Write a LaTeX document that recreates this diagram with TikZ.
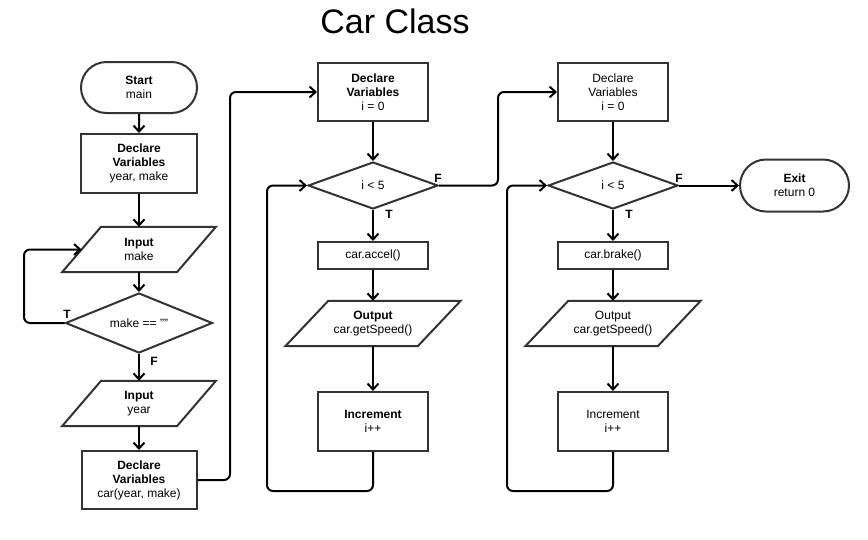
\documentclass[tikz,border=0pt]{standalone}
\usepackage{fontspec}
\setmainfont{Liberation Sans}
\usetikzlibrary{shapes.geometric,shapes.misc,arrows.meta}
\begin{document}
\begin{tikzpicture}[x=1pt,y=-1pt,
  txt/.style={font=\fontsize{12}{14}\selectfont, align=center, inner sep=0pt},
  shp/.style={txt, draw=black!80, line width=2pt, fill=white},
  box/.style={shp, rectangle},
  term/.style={shp, rounded rectangle},
  dec/.style={shp, diamond},
  io/.style={txt, draw=none},
  paraline/.style={draw=black!80, line width=2pt, line join=miter},
  arr/.style={line width=2pt, rounded corners=6pt, -{Straight Barb[length=6pt,width=11pt]}},
  lbl/.style={font=\bfseries\fontsize{12}{14}\selectfont, inner sep=0pt}
]
\useasboundingbox (0,0) rectangle (868,539);

% title
\node[font=\fontsize{34}{38}\selectfont, anchor=base, inner sep=0pt] (title) at (395,33.5) {Car Class};

% column 1
\node[term, minimum width=116pt, minimum height=51pt] (start) at (139,87.5) {\textbf{Start}\\main};
\node[box, minimum width=116pt, minimum height=59pt] (d1) at (139,163.5) {\textbf{Declare}\\\textbf{Variables}\\year, make};
\node[io, minimum width=114.5pt, minimum height=45pt] (in1) at (139,249.5) {\textbf{Input}\\make};
\node[dec, aspect=2.45, minimum width=147pt, minimum height=60pt] (dia1) at (139,323) {make == \symbol{34}\symbol{34}};
\node[io, minimum width=114.5pt, minimum height=45pt] (in2) at (139,403.5) {\textbf{Input}\\year};
\node[box, minimum width=115pt, minimum height=58pt] (d2) at (139,480) {\textbf{Declare}\\\textbf{Variables}\\car(year, make)};

% column 2
\node[box, minimum width=110pt, minimum height=58pt] (d3) at (373,92) {\textbf{Declare}\\\textbf{Variables}\\i = 0};
\node[dec, aspect=2.77, minimum width=130pt, minimum height=47pt] (dia2) at (373,185.5) {i < 5};
\node[box, minimum width=110pt, minimum height=27pt] (acc) at (373,255.5) {car.accel()};
\node[io, minimum width=132pt, minimum height=45pt] (out1) at (373,323.5) {\textbf{Output}\\car.getSpeed()};
\node[box, minimum width=110pt, minimum height=59pt] (inc1) at (373,421.5) {\textbf{Increment}\\i++};

% column 3
\node[box, minimum width=110pt, minimum height=58pt] (d4) at (613,92) {Declare\\Variables\\i = 0};
\node[dec, aspect=2.77, minimum width=130pt, minimum height=47pt] (dia3) at (613,185.5) {i < 5};
\node[box, minimum width=110pt, minimum height=27pt] (brk) at (613,255.5) {car.brake()};
\node[io, minimum width=132pt, minimum height=45pt] (out2) at (613,323.5) {Output\\car.getSpeed()};
\node[box, minimum width=110pt, minimum height=59pt] (inc2) at (613,421.5) {Increment\\i++};
\node[term, minimum width=109pt, minimum height=52pt] (exit) at (794.5,185.5) {\textbf{Exit}\\return 0};

% parallelograms
\foreach \n/\s in {in1/19.5, in2/19.5, out1/21.5, out2/21.5}{
  \draw[paraline] ([xshift=\s pt]\n.north west) -- ([xshift=\s pt]\n.north east)
     -- ([xshift=-\s pt]\n.south east) -- ([xshift=-\s pt]\n.south west) -- cycle;
}

% loop corner coordinates
\coordinate (c1a) at (24,323);
\coordinate (c1b) at (24,249.5);
\coordinate (c2a) at (230,480);
\coordinate (c2b) at (230,92);
\coordinate (c3a) at (373,491);
\coordinate (c3b) at (267,491);
\coordinate (c3c) at (267,185.5);
\coordinate (c4a) at (498,185.5);
\coordinate (c4b) at (498,92);
\coordinate (c5a) at (613,491);
\coordinate (c5b) at (507,491);
\coordinate (c5c) at (507,185.5);

% connectors column 1
\draw[arr] (start) -- (d1);
\draw[arr] (d1) -- (in1);
\draw[arr] (in1) -- (dia1);
\draw[arr] (dia1) -- (in2);
\draw[arr] (in2) -- (d2);
\draw[arr] (dia1.west) -- (c1a) -- (c1b) -- (in1.west);
\draw[arr] (d2.east) -- (c2a) -- (c2b) -- (d3.west);

% connectors column 2
\draw[arr] (d3) -- (dia2);
\draw[arr] (dia2) -- (acc);
\draw[arr] (acc) -- (out1);
\draw[arr] (out1) -- (inc1);
\draw[arr] (inc1.south) -- (c3a) -- (c3b) -- (c3c) -- (dia2.west);
\draw[arr] (dia2.east) -- (c4a) -- (c4b) -- (d4.west);

% connectors column 3
\draw[arr] (d4) -- (dia3);
\draw[arr] (dia3) -- (brk);
\draw[arr] (brk) -- (out2);
\draw[arr] (out2) -- (inc2);
\draw[arr] (inc2.south) -- (c5a) -- (c5b) -- (c5c) -- (dia3.west);
\draw[arr] (dia3.east) -- (exit.west);

% branch labels
\node[lbl] (t1) at (67,314) {T};
\node[lbl] (f1) at (154,361) {F};
\node[lbl] (f2) at (438,178) {F};
\node[lbl] (t2) at (389,214) {T};
\node[lbl] (f3) at (679,178) {F};
\node[lbl] (t3) at (629,214) {T};
\end{tikzpicture}
\end{document}
